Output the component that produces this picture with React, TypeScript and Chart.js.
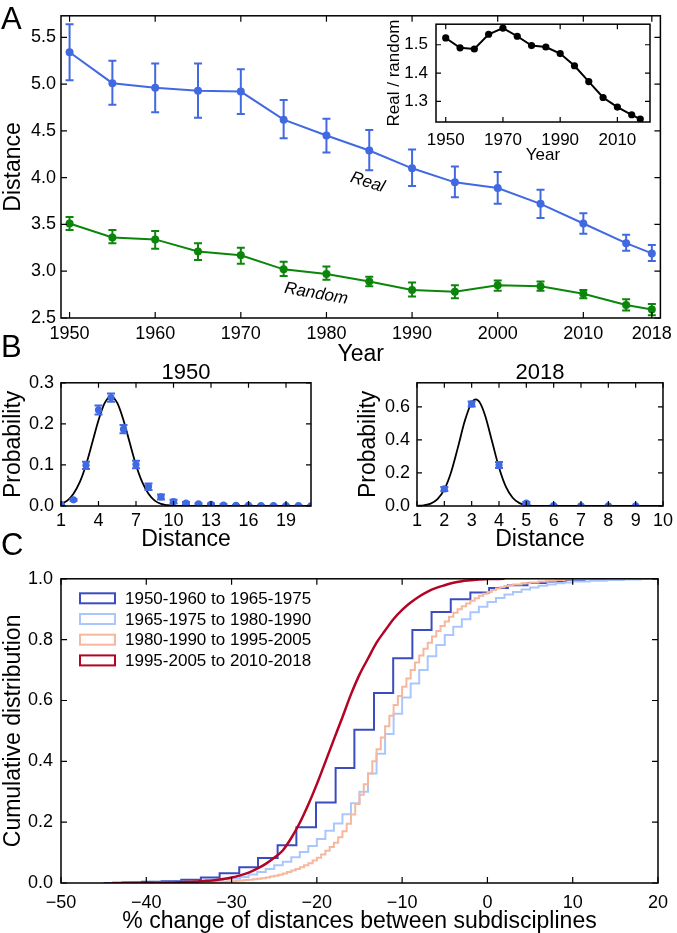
import React, { useEffect, useRef } from 'react';
import { Chart, registerables } from 'chart.js';

Chart.register(...registerables);

const FONT = "'Liberation Sans', Arial, Helvetica, sans-serif";
Chart.defaults.font.family = FONT;
Chart.defaults.color = '#000';

const BLUE = '#4169e1';
const GREEN = '#0b860b';

// ---------- Panel A ----------
const YEARS = [1950, 1955, 1960, 1965, 1970, 1975, 1980, 1985, 1990, 1995, 2000, 2005, 2010, 2015, 2018];
const REAL = [5.34, 5.01, 4.96, 4.93, 4.92, 4.62, 4.45, 4.29, 4.1, 3.95, 3.89, 3.72, 3.51, 3.3, 3.19];
const REAL_HI = [5.64, 5.25, 5.22, 5.22, 5.16, 4.83, 4.63, 4.51, 4.3, 4.12, 4.06, 3.87, 3.62, 3.39, 3.28];
const REAL_LO = [5.04, 4.78, 4.7, 4.64, 4.68, 4.42, 4.27, 4.08, 3.91, 3.79, 3.72, 3.57, 3.4, 3.22, 3.11];
const RANDOM = [3.51, 3.36, 3.34, 3.21, 3.17, 3.02, 2.97, 2.89, 2.8, 2.78, 2.85, 2.84, 2.76, 2.64, 2.59];
const RANDOM_HI = [3.58, 3.44, 3.43, 3.3, 3.25, 3.1, 3.05, 2.94, 2.88, 2.85, 2.9, 2.89, 2.8, 2.7, 2.65];
const RANDOM_LO = [3.44, 3.3, 3.24, 3.12, 3.08, 2.95, 2.91, 2.84, 2.73, 2.71, 2.79, 2.79, 2.71, 2.58, 2.53];
const RATIO = [1.524, 1.489, 1.485, 1.537, 1.559, 1.53, 1.497, 1.492, 1.469, 1.426, 1.37, 1.314, 1.28, 1.253, 1.238];

const A_X_TICKS = [1950, 1960, 1970, 1980, 1990, 2000, 2010, 2018];
const A_Y_TICKS = [2.5, 3.0, 3.5, 4.0, 4.5, 5.0, 5.5];
const INSET_X_TICKS = [1950, 1970, 1990, 2010];
const INSET_Y_TICKS = [1.3, 1.4, 1.5];

// ---------- Panel B ----------
const B1_X = [1, 2, 3, 4, 5, 6, 7, 8, 9, 10, 11, 12, 13, 14, 15, 16, 17, 18, 19, 20, 21];
const B1_P = [0.004, 0.015, 0.099, 0.234, 0.264, 0.187, 0.101, 0.047, 0.022, 0.011, 0.007, 0.005, 0.004, 0.002, 0.0015, 0.0015, 0.001, 0.001, 0.001, 0.0008, 0.0005];
const B1_ERR = [0.001, 0.002, 0.009, 0.011, 0.01, 0.01, 0.009, 0.008, 0.006, 0.004, 0.003, 0.002, 0.002, 0.002, 0.001, 0.001, 0.001, 0.001, 0.001, 0.001, 0.001];
const B1_FIT_X = [1, 1.5, 2, 2.5, 3, 3.5, 4, 4.5, 5, 5.5, 6, 6.5, 7, 7.5, 8, 8.5, 9, 9.5, 10, 11, 21];
const B1_FIT_Y = [0.005, 0.013, 0.03, 0.058, 0.1, 0.154, 0.209, 0.251, 0.267, 0.251, 0.209, 0.154, 0.1, 0.058, 0.03, 0.013, 0.005, 0.002, 0.0006, 0, 0];
const B1_X_TICKS = [1, 4, 7, 10, 13, 16, 19];
const B1_Y_TICKS = [0, 0.1, 0.2, 0.3];

const B2_X = [2, 3, 4, 5, 6, 7, 8, 9];
const B2_P = [0.103, 0.617, 0.248, 0.018, 0.002, 0.001, 0.001, 0.001];
const B2_ERR = [0.012, 0.015, 0.018, 0.006, 0.002, 0.001, 0.001, 0.001];
const B2_FIT_X = [1, 1.25, 1.5, 1.75, 2, 2.25, 2.5, 2.75, 3, 3.15, 3.3, 3.5, 3.75, 4, 4.25, 4.5, 4.75, 5, 5.25, 5.5, 6, 10];
const B2_FIT_Y = [0.001, 0.004, 0.014, 0.041, 0.1, 0.206, 0.356, 0.515, 0.625, 0.645, 0.625, 0.543, 0.388, 0.233, 0.117, 0.05, 0.0175, 0.005, 0.001, 0, 0, 0];
const B2_X_TICKS = [1, 2, 3, 4, 5, 6, 7, 8, 9, 10];
const B2_Y_TICKS = [0, 0.2, 0.4, 0.6];

// ---------- Panel C ----------
const C_LABELS = ['1950-1960 to 1965-1975', '1965-1975 to 1980-1990', '1980-1990 to 1995-2005', '1995-2005 to 2010-2018'];
const C_COLORS = ['#3b4cc0', '#aac7fd', '#f5b89e', '#b40426'];

const C1_X = [-45, -42.8, -40.5, -38.2, -35.9, -33.6, -31.4, -29.1, -26.9, -24.6, -22.4, -20.1, -17.8, -15.6, -13.3, -11.05, -8.8, -6.55, -4.3, -2.0, 0.2, 2.4, 4.7, 6.9, 9.2, 11.4, 20];
const C1_Y = [0, 0.002, 0.004, 0.006, 0.011, 0.018, 0.032, 0.052, 0.082, 0.124, 0.183, 0.265, 0.378, 0.504, 0.625, 0.739, 0.832, 0.891, 0.933, 0.955, 0.97, 0.979, 0.986, 0.991, 0.996, 1.0, 1.0];

const C2_X = [-44, -40, -39, -38, -37, -36, -35, -34, -33, -32, -31, -30, -29, -28, -27, -26, -25, -24, -23, -22, -21, -20, -19, -18, -17, -16, -15, -14, -13, -12, -11, -10, -9, -8, -7, -6, -5, -4, -3, -2, -1, 0, 1, 2, 3, 4, 5, 6, 7, 8, 9, 10, 12, 14, 16, 18, 20];
const C2_Y = [0, 0.001, 0.002, 0.002, 0.003, 0.004, 0.005, 0.006, 0.008, 0.01, 0.012, 0.015, 0.02, 0.028, 0.036, 0.046, 0.058, 0.07, 0.085, 0.102, 0.122, 0.145, 0.172, 0.196, 0.226, 0.262, 0.3, 0.36, 0.425, 0.49, 0.556, 0.61, 0.656, 0.7, 0.745, 0.782, 0.815, 0.842, 0.867, 0.89, 0.908, 0.924, 0.937, 0.948, 0.957, 0.965, 0.971, 0.977, 0.981, 0.985, 0.988, 0.991, 0.994, 0.996, 0.998, 0.999, 1.0];

const C3_X = [-44, -34, -33.5, -33, -32.5, -32, -31.5, -31, -30.5, -30, -29.5, -29, -28.5, -28, -27.5, -27, -26.5, -26, -25.5, -25, -24.5, -24, -23.5, -23, -22.5, -22, -21.5, -21, -20.5, -20, -19.5, -19, -18.5, -18, -17.5, -17, -16.5, -16, -15.5, -15, -14.5, -14, -13.5, -13, -12.5, -12, -11.5, -11, -10.5, -10, -9.5, -9, -8.5, -8, -7.5, -7, -6.5, -6, -5.5, -5, -4.5, -4, -3.5, -3, -2.5, -2, -1.5, -1, -0.5, 0, 0.5, 1, 1.5, 2, 2.5, 3, 4, 5, 6, 7, 8, 9, 10, 12, 20];
const C3_Y = [0, 0.002, 0.002, 0.003, 0.003, 0.003, 0.004, 0.004, 0.005, 0.006, 0.007, 0.008, 0.01, 0.011, 0.012, 0.014, 0.016, 0.018, 0.021, 0.024, 0.027, 0.031, 0.036, 0.041, 0.046, 0.052, 0.058, 0.065, 0.074, 0.083, 0.094, 0.106, 0.118, 0.132, 0.15, 0.17, 0.195, 0.225, 0.26, 0.29, 0.325, 0.36, 0.4, 0.44, 0.478, 0.515, 0.55, 0.585, 0.615, 0.645, 0.672, 0.7, 0.725, 0.748, 0.77, 0.79, 0.81, 0.828, 0.845, 0.86, 0.875, 0.888, 0.9, 0.91, 0.919, 0.928, 0.936, 0.944, 0.951, 0.957, 0.963, 0.968, 0.972, 0.976, 0.979, 0.981, 0.985, 0.988, 0.991, 0.994, 0.996, 0.998, 0.999, 1.0, 1.0];

const C4_X = [-44, -40, -37, -35, -34, -33, -32, -31, -30, -29, -28, -27, -26, -25, -24, -23, -22, -21, -20, -19, -18, -17, -16, -15, -14, -13, -12, -11, -10, -9, -8, -7, -6, -5, -4, -3, -2, -1, 0, 2];
const C4_Y = [0, 0.001, 0.002, 0.004, 0.005, 0.007, 0.009, 0.013, 0.018, 0.025, 0.034, 0.047, 0.063, 0.083, 0.107, 0.148, 0.198, 0.258, 0.325, 0.398, 0.472, 0.545, 0.62, 0.685, 0.738, 0.79, 0.83, 0.868, 0.898, 0.922, 0.942, 0.958, 0.97, 0.979, 0.987, 0.992, 0.995, 0.998, 0.999, 1.0];

const C_X_TICKS = [-50, -40, -30, -20, -10, 0, 10, 20];
const C_Y_TICKS = [0, 0.2, 0.4, 0.6, 0.8, 1.0];

// ---------- helpers ----------
const pts = (xs: number[], ys: number[]) => xs.map((x, i) => ({ x, y: ys[i] }));
const fmt1 = (v: number) => v.toFixed(1);
const fmtInt = (v: number) => (v < 0 ? '\u2212' + Math.abs(v) : String(v));

function axis(o: {
  min: number; max: number; ticks: number[]; fmt: (v: number) => string; pad: number; fit: number; isX: boolean;
  size?: number; title?: string; titleSize?: number; titleLH?: number; titlePad?: any;
}) {
  return {
    type: 'linear',
    min: o.min,
    max: o.max,
    grid: { display: false, drawTicks: false },
    border: { display: false },
    ticks: {
      color: '#000',
      font: { family: FONT, size: o.size ?? 18 },
      padding: o.pad,
      maxRotation: 0,
      minRotation: 0,
      autoSkip: false,
      callback: (v: any) => o.fmt(Number(v)),
    },
    afterBuildTicks: (s: any) => {
      s.ticks = o.ticks.map((v) => ({ value: v }));
    },
    afterFit: (s: any) => {
      if (o.isX) s.height = o.fit;
      else s.width = o.fit;
    },
    title: o.title
      ? {
          display: true,
          text: o.title,
          color: '#000',
          font: { family: FONT, size: o.titleSize ?? 23, lineHeight: o.titleLH ?? 1.2 },
          padding: o.titlePad ?? { top: 0, bottom: 0 },
        }
      : { display: false },
  };
}

function framePlugin(xt: number[], yt: number[], len: number) {
  return {
    id: 'frame',
    afterDraw(chart: any) {
      const { ctx, chartArea: a } = chart;
      const x = chart.scales.x;
      const y = chart.scales.y;
      ctx.save();
      ctx.strokeStyle = '#000';
      ctx.lineWidth = 1.2;
      ctx.beginPath();
      for (const v of xt) {
        const p = x.getPixelForValue(v);
        ctx.moveTo(p, a.bottom);
        ctx.lineTo(p, a.bottom - len);
        ctx.moveTo(p, a.top);
        ctx.lineTo(p, a.top + len);
      }
      for (const v of yt) {
        const p = y.getPixelForValue(v);
        ctx.moveTo(a.left, p);
        ctx.lineTo(a.left + len, p);
        ctx.moveTo(a.right, p);
        ctx.lineTo(a.right - len, p);
      }
      ctx.stroke();
      ctx.lineWidth = 1.5;
      ctx.strokeRect(a.left, a.top, a.right - a.left, a.bottom - a.top);
      ctx.restore();
    },
  };
}

function errorBarPlugin(items: { ds: number; lo: number[]; hi: number[]; color: string; cap: number; width: number }[]) {
  return {
    id: 'errbars',
    afterDatasetsDraw(chart: any) {
      const { ctx, chartArea: a } = chart;
      const x = chart.scales.x;
      const y = chart.scales.y;
      ctx.save();
      ctx.beginPath();
      ctx.rect(a.left, a.top, a.right - a.left, a.bottom - a.top);
      ctx.clip();
      for (const it of items) {
        const data = chart.data.datasets[it.ds].data;
        ctx.strokeStyle = it.color;
        ctx.lineWidth = it.width;
        ctx.beginPath();
        data.forEach((p: any, i: number) => {
          const px = x.getPixelForValue(p.x);
          const y1 = y.getPixelForValue(it.lo[i]);
          const y2 = y.getPixelForValue(it.hi[i]);
          ctx.moveTo(px, y1);
          ctx.lineTo(px, y2);
          ctx.moveTo(px - it.cap, y1);
          ctx.lineTo(px + it.cap, y1);
          ctx.moveTo(px - it.cap, y2);
          ctx.lineTo(px + it.cap, y2);
        });
        ctx.stroke();
      }
      ctx.restore();
    },
  };
}

function notePlugin(notes: { text: string; x: number; y: number; angle: number; size: number }[]) {
  return {
    id: 'notes',
    afterDatasetsDraw(chart: any) {
      const { ctx } = chart;
      const x = chart.scales.x;
      const y = chart.scales.y;
      ctx.save();
      ctx.fillStyle = '#000';
      ctx.textAlign = 'center';
      ctx.textBaseline = 'middle';
      for (const n of notes) {
        ctx.save();
        ctx.translate(x.getPixelForValue(n.x), y.getPixelForValue(n.y));
        ctx.rotate((n.angle * Math.PI) / 180);
        ctx.font = `italic ${n.size}px ${FONT}`;
        ctx.fillText(n.text, 0, 0);
        ctx.restore();
      }
      ctx.restore();
    },
  };
}

const whiteAreaPlugin = {
  id: 'whiteArea',
  beforeDraw(chart: any) {
    const { ctx, chartArea: a } = chart;
    ctx.save();
    ctx.fillStyle = '#fff';
    ctx.fillRect(a.left, a.top, a.right - a.left, a.bottom - a.top);
    ctx.restore();
  },
};

const legendPlugin = {
  id: 'boxLegend',
  afterDraw(chart: any) {
    const { ctx, chartArea: a } = chart;
    ctx.save();
    ctx.font = `17px ${FONT}`;
    ctx.textBaseline = 'middle';
    ctx.textAlign = 'left';
    chart.data.datasets.forEach((ds: any, i: number) => {
      const cy = a.top + 19.5 + i * 20.7;
      ctx.fillStyle = '#fff';
      ctx.fillRect(a.left + 19, cy - 5, 35, 10);
      ctx.strokeStyle = ds.borderColor;
      ctx.lineWidth = 2;
      ctx.strokeRect(a.left + 19, cy - 5, 35, 10);
      ctx.fillStyle = '#000';
      ctx.fillText(ds.label, a.left + 64, cy + 1);
    });
    ctx.restore();
  },
};

const baseOptions = (padding: any) => ({
  responsive: false,
  maintainAspectRatio: false,
  animation: false,
  events: [],
  layout: { padding },
  plugins: { legend: { display: false }, tooltip: { enabled: false }, title: { display: false } },
});

// ---------- chart configs ----------
function makeMain() {
  return {
    type: 'line',
    data: {
      datasets: [
        { data: pts(YEARS, REAL), borderColor: BLUE, backgroundColor: BLUE, pointBackgroundColor: BLUE, borderWidth: 2, pointRadius: 4, pointBorderWidth: 0, tension: 0 },
        { data: pts(YEARS, RANDOM), borderColor: GREEN, backgroundColor: GREEN, pointBackgroundColor: GREEN, borderWidth: 2, pointRadius: 4, pointBorderWidth: 0, tension: 0 },
      ],
    },
    options: {
      ...baseOptions({ left: 0, top: 4, right: 10, bottom: 0 }),
      scales: {
        x: axis({ min: 1949, max: 2019, ticks: A_X_TICKS, fmt: (v) => String(v), pad: 5, fit: 50, isX: true, title: 'Year', titlePad: { top: 0, bottom: 0 } }),
        y: axis({ min: 2.5, max: 5.73, ticks: A_Y_TICKS, fmt: fmt1, pad: 5, fit: 61, isX: false, title: 'Distance', titlePad: { top: 0, bottom: 0 } }),
      },
    },
    plugins: [
      errorBarPlugin([
        { ds: 0, lo: REAL_LO, hi: REAL_HI, color: BLUE, cap: 4, width: 2 },
        { ds: 1, lo: RANDOM_LO, hi: RANDOM_HI, color: GREEN, cap: 4, width: 2 },
      ]),
      notePlugin([
        { text: 'Real', x: 1984.8, y: 3.95, angle: 18, size: 17 },
        { text: 'Random', x: 1978.8, y: 2.76, angle: 10, size: 17 },
      ]),
      framePlugin(A_X_TICKS, A_Y_TICKS, 6),
    ],
  };
}

function makeInset() {
  return {
    type: 'line',
    data: {
      datasets: [
        { data: pts(YEARS, RATIO), borderColor: '#000', backgroundColor: '#000', pointBackgroundColor: '#000', borderWidth: 2, pointRadius: 3.6, pointBorderWidth: 0, tension: 0 },
      ],
    },
    options: {
      ...baseOptions({ left: 0, top: 8, right: 15, bottom: 0 }),
      scales: {
        x: axis({ min: 1946.6, max: 2021.4, ticks: INSET_X_TICKS, fmt: (v) => String(v), pad: 8, fit: 44, isX: true, size: 17, title: 'Year', titleSize: 17, titlePad: { top: 0, bottom: 0 } }),
        y: axis({ min: 1.2275, max: 1.5725, ticks: INSET_Y_TICKS, fmt: fmt1, pad: 8, fit: 56, isX: false, size: 17, title: 'Real / random', titleSize: 17, titlePad: { top: 4, bottom: 0 } }),
      },
    },
    plugins: [whiteAreaPlugin, framePlugin(INSET_X_TICKS, INSET_Y_TICKS, 5)],
  };
}

function makeB(o: {
  px: number[]; pp: number[]; perr: number[]; fx: number[]; fy: number[]; xmin: number; xmax: number; ymax: number;
  xt: number[]; yt: number[]; title: string; yfit: number; ytitlePad: number; padRight: number;
}) {
  const base = baseOptions({ left: 0, top: 0, right: o.padRight, bottom: 0 });
  return {
    type: 'line',
    data: {
      datasets: [
        { data: pts(o.px, o.pp), showLine: false, borderColor: BLUE, backgroundColor: BLUE, pointBackgroundColor: BLUE, pointRadius: 3.6, pointBorderWidth: 0 },
        { data: pts(o.fx, o.fy), borderColor: '#000', backgroundColor: '#000', borderWidth: 1.8, pointRadius: 0, cubicInterpolationMode: 'monotone' },
      ],
    },
    options: {
      ...base,
      plugins: {
        ...base.plugins,
        title: {
          display: true,
          text: o.title,
          color: '#000',
          fullSize: false,
          font: { family: FONT, size: 22, weight: 'normal', lineHeight: 0.9 },
          padding: { top: 5, bottom: 0 },
        },
      },
      scales: {
        x: axis({ min: o.xmin, max: o.xmax, ticks: o.xt, fmt: fmtInt, pad: 4, fit: 47, isX: true, title: 'Distance', titlePad: { top: 0, bottom: 0 } }),
        y: axis({ min: 0, max: o.ymax, ticks: o.yt, fmt: fmt1, pad: 7, fit: o.yfit, isX: false, title: 'Probability', titlePad: { top: o.ytitlePad, bottom: 0 } }),
      },
    },
    plugins: [
      errorBarPlugin([
        { ds: 0, lo: o.pp.map((v, i) => v - o.perr[i]), hi: o.pp.map((v, i) => v + o.perr[i]), color: BLUE, cap: 4, width: 2 },
      ]),
      framePlugin(o.xt, o.yt, 5),
    ],
  };
}

const makeB1 = () =>
  makeB({ px: B1_X, pp: B1_P, perr: B1_ERR, fx: B1_FIT_X, fy: B1_FIT_Y, xmin: 1, xmax: 21, ymax: 0.3, xt: B1_X_TICKS, yt: B1_Y_TICKS, title: '1950', yfit: 61, ytitlePad: 0, padRight: 24 });
const makeB2 = () =>
  makeB({ px: B2_X, pp: B2_P, perr: B2_ERR, fx: B2_FIT_X, fy: B2_FIT_Y, xmin: 1, xmax: 10, ymax: 0.745, xt: B2_X_TICKS, yt: B2_Y_TICKS, title: '2018', yfit: 82, ytitlePad: 20, padRight: 10 });

function makeC() {
  const series = [
    { xs: C1_X, ys: C1_Y, stepped: true, width: 2, order: 3 },
    { xs: C2_X, ys: C2_Y, stepped: true, width: 2, order: 2 },
    { xs: C3_X, ys: C3_Y, stepped: true, width: 2, order: 1 },
    { xs: C4_X, ys: C4_Y, stepped: false, width: 2.5, order: 0 },
  ];
  return {
    type: 'line',
    data: {
      datasets: series.map((s, i) => ({
        label: C_LABELS[i],
        data: pts(s.xs, s.ys),
        borderColor: C_COLORS[i],
        backgroundColor: 'transparent',
        borderWidth: s.width,
        pointRadius: 0,
        stepped: s.stepped,
        cubicInterpolationMode: s.stepped ? 'default' : 'monotone',
        order: s.order,
      })),
    },
    options: {
      ...baseOptions({ left: 0, top: 10, right: 10, bottom: 0 }),
      scales: {
        x: axis({ min: -50, max: 20, ticks: C_X_TICKS, fmt: fmtInt, pad: 9, fit: 50, isX: true, title: '% change of distances between subdisciplines', titleLH: 1.0, titlePad: { top: 0, bottom: 0 } }),
        y: axis({ min: 0, max: 1, ticks: C_Y_TICKS, fmt: fmt1, pad: 8, fit: 61, isX: false, title: 'Cumulative distribution', titlePad: { top: 0, bottom: 0 } }),
      },
    },
    plugins: [framePlugin(C_X_TICKS, C_Y_TICKS, 6), legendPlugin],
  };
}

// ---------- components ----------
type Box = { left: number; top: number; width: number; height: number };

function ChartCanvas({ box, make }: { box: Box; make: () => any }) {
  const ref = useRef<HTMLCanvasElement>(null);
  useEffect(() => {
    const chart = new Chart(ref.current as HTMLCanvasElement, make());
    return () => chart.destroy();
  }, []);
  return (
    <div style={{ position: 'absolute', left: box.left, top: box.top, width: box.width, height: box.height }}>
      <canvas ref={ref} width={box.width} height={box.height} style={{ display: 'block', width: box.width, height: box.height }} />
    </div>
  );
}

const panelLabel = (top: number): React.CSSProperties => ({
  position: 'absolute',
  left: 1,
  top,
  fontFamily: FONT,
  fontSize: 31,
  lineHeight: '30px',
  color: '#000',
});

export default function App() {
  return (
    <div style={{ position: 'absolute', left: 0, top: 0, width: 677, height: 933, background: '#fff', overflow: 'hidden' }}>
      <ChartCanvas box={{ left: 0, top: 0, width: 677, height: 368 }} make={makeMain} />
      <ChartCanvas box={{ left: 380, top: 6, width: 285, height: 160 }} make={makeInset} />
      <ChartCanvas box={{ left: 0, top: 358, width: 335, height: 195 }} make={makeB1} />
      <ChartCanvas box={{ left: 335, top: 358, width: 342, height: 195 }} make={makeB2} />
      <ChartCanvas box={{ left: 0, top: 560, width: 677, height: 373 }} make={makeC} />
      <div style={panelLabel(4)}>A</div>
      <div style={panelLabel(332)}>B</div>
      <div style={panelLabel(530)}>C</div>
    </div>
  );
}
